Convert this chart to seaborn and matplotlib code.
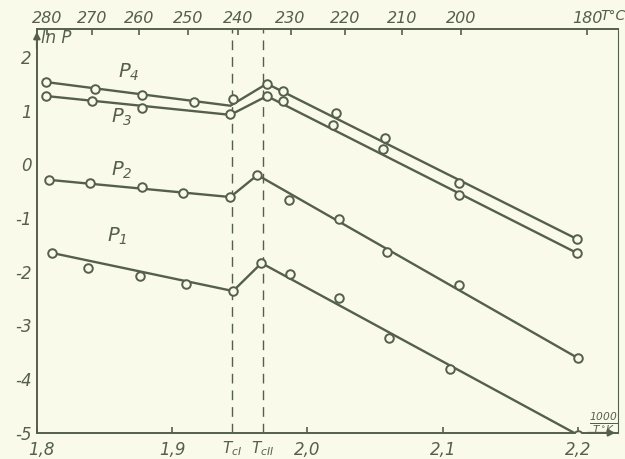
import numpy as np
import pandas as pd
import matplotlib
matplotlib.use("Agg")
import matplotlib.pyplot as plt
import matplotlib.transforms as mtransforms
import seaborn as sns

# measured points: x = 1000/T (K^-1), y = ln P
series_names = ["P4", "P3", "P2", "P1"]

p4_x = [1.807, 1.843, 1.878, 1.916, 1.945, 1.970, 1.982, 2.021, 2.057, 2.112, 2.199]
p4_y = [1.53, 1.40, 1.29, 1.16, 1.22, 1.50, 1.37, 0.96, 0.49, -0.35, -1.39]

p3_x = [1.807, 1.841, 1.878, 1.943, 1.970, 1.982, 2.019, 2.056, 2.112, 2.199]
p3_y = [1.27, 1.18, 1.05, 0.94, 1.27, 1.18, 0.73, 0.29, -0.57, -1.65]

p2_x = [1.809, 1.839, 1.878, 1.908, 1.943, 1.963, 1.986, 2.023, 2.059, 2.112, 2.200]
p2_y = [-0.29, -0.35, -0.42, -0.53, -0.61, -0.20, -0.66, -1.02, -1.63, -2.25, -3.61]

p1_x = [1.811, 1.838, 1.876, 1.910, 1.945, 1.966, 1.987, 2.023, 2.060, 2.105, 2.200]
p1_y = [-1.65, -1.93, -2.08, -2.23, -2.36, -1.84, -2.04, -2.49, -3.23, -3.81, -5.04]

# hand-drawn fit lines (start, Tc1 corner, Tc2 peak, end)
fit_p4_x = [1.807, 1.943, 1.970, 2.199]
fit_p4_y = [1.53, 1.09, 1.50, -1.39]
fit_p3_x = [1.807, 1.943, 1.970, 2.199]
fit_p3_y = [1.27, 0.92, 1.27, -1.65]
fit_p2_x = [1.809, 1.943, 1.963, 2.200]
fit_p2_y = [-0.29, -0.61, -0.20, -3.61]
fit_p1_x = [1.811, 1.945, 1.966, 2.200]
fit_p1_y = [-1.65, -2.36, -1.84, -5.04]

tc1 = 1.944
tc2 = 1.967

x_ticks = [1.8, 1.9, 2.0, 2.1, 2.2]
x_labels = ["1,8", "1,9", "2,0", "2,1", "2,2"]
y_ticks = [2, 1, 0, -1, -2, -3, -4, -5]
temps_c = [280, 270, 260, 250, 240, 230, 220, 210, 200, 180]

ink = "#55604c"
paper = "#f9faea"

pts = pd.concat([
    pd.DataFrame({"x": p4_x, "y": p4_y, "s": "P4"}),
    pd.DataFrame({"x": p3_x, "y": p3_y, "s": "P3"}),
    pd.DataFrame({"x": p2_x, "y": p2_y, "s": "P2"}),
    pd.DataFrame({"x": p1_x, "y": p1_y, "s": "P1"}),
])
fits = pd.concat([
    pd.DataFrame({"x": fit_p4_x, "y": fit_p4_y, "s": "P4"}),
    pd.DataFrame({"x": fit_p3_x, "y": fit_p3_y, "s": "P3"}),
    pd.DataFrame({"x": fit_p2_x, "y": fit_p2_y, "s": "P2"}),
    pd.DataFrame({"x": fit_p1_x, "y": fit_p1_y, "s": "P1"}),
])

sns.set_style("white")
plt.rcParams["font.family"] = ["DejaVu Sans"]
plt.rcParams["font.style"] = "italic"
plt.rcParams["axes.unicode_minus"] = False

fig = plt.figure(figsize=(6.25, 4.59), dpi=100, facecolor=paper)
ax = fig.add_axes([0.059, 0.057, 0.930, 0.880], facecolor=paper)

pal = {s: ink for s in series_names}
sns.lineplot(data=fits, x="x", y="y", hue="s", units="s", estimator=None,
             palette=pal, linewidth=1.7, legend=False, ax=ax, zorder=2)
sns.scatterplot(data=pts, x="x", y="y", hue="s", palette=pal, legend=False,
                s=38, marker="o", linewidth=1.4, ax=ax, zorder=3)
# hollow circles like the hand-drawn ones
for coll in ax.collections:
    coll.set_facecolor(paper)
    coll.set_edgecolor(ink)

for xv in (tc1, tc2):
    ax.axvline(xv, color=ink, linestyle=(0, (7, 5)), linewidth=1.0, zorder=1)

ax.set_xlim(1.8, 2.2296)
ax.set_ylim(-5, 2.52)
ax.set_xticks(x_ticks)
ax.set_xticklabels(x_labels)
ax.set_yticks(y_ticks)
ax.set_xlabel("")
ax.set_ylabel("")
ax.tick_params(axis="x", pad=6)
ax.tick_params(axis="both", direction="in", length=4, color=ink,
               labelcolor=ink, labelsize=12, width=1.2)
# nudge "1,8" right of the corner so it clears "-5"
first = ax.get_xticklabels()[0]
first.set_transform(first.get_transform() +
                    mtransforms.ScaledTranslation(5 / 100, 0, fig.dpi_scale_trans))
for sp in ax.spines.values():
    sp.set_color(ink)
    sp.set_linewidth(1.4)
ax.spines["right"].set_linewidth(0.8)

ax2 = ax.twiny()
ax2.set_xlim(ax.get_xlim())
ax2.set_xticks([1000 / (t + 273.15) for t in temps_c])
ax2.set_xticklabels([str(t) for t in temps_c])
ax2.tick_params(axis="x", direction="in", length=4, color=ink,
                labelcolor=ink, labelsize=11.5, pad=2, width=1.2)
for sp in ax2.spines.values():
    sp.set_visible(False)

# curve labels
lab = dict(color=ink, fontsize=14, style="italic")
ax.text(1.86, 1.62, "P$_4$", **lab)
ax.text(1.855, 0.78, "P$_3$", **lab)
ax.text(1.855, -0.22, "P$_2$", **lab)
ax.text(1.852, -1.45, "P$_1$", **lab)

# axis names
ax.text(1.803, 2.25, "ln P", color=ink, fontsize=12)
ax.annotate("", xy=(1.8, 2.52), xytext=(1.8, 2.1),
            arrowprops=dict(arrowstyle="-|>", color=ink, lw=1.4))
fig.text(0.96, 0.957, "T°C", color=ink, fontsize=10, ha="left")
ax.annotate("", xy=(2.2296, -5), xytext=(2.205, -5),
            arrowprops=dict(arrowstyle="-|>", color=ink, lw=1.4),
            annotation_clip=False)
ax.text(2.208, -4.9, r"$\frac{1000}{T\,^{\circ}K}$", color=ink, fontsize=11)

# critical temperatures
ax.text(tc1, -5.12, "T$_{cI}$", color=ink, fontsize=11, ha="center", va="top")
ax.text(tc2, -5.12, "T$_{cII}$", color=ink, fontsize=11, ha="center", va="top")

fig.savefig("out.png", dpi=100, facecolor=paper)
